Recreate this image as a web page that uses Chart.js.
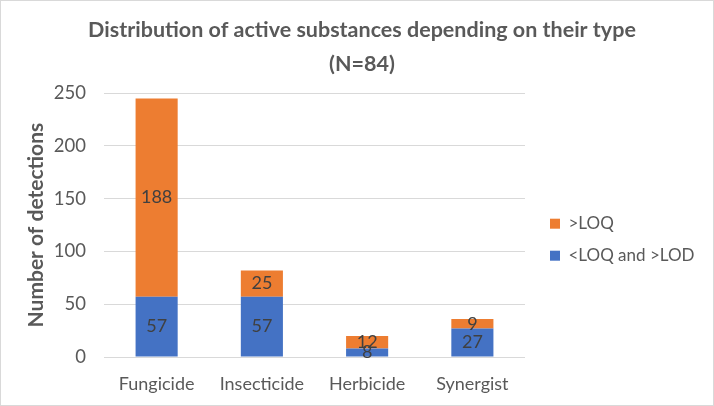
<!DOCTYPE html>
<html lang="en">
<head>
  <meta charset="UTF-8" />
  <title>Distribution of active substances</title>
  <script src="https://cdn.jsdelivr.net/npm/chart.js@4"></script>
  <style>
    html, body { margin: 0; padding: 0; background: #fff; }
    #wrap { width: 714px; height: 406px; box-sizing: border-box; border: 1px solid #d9d9d9; }
  </style>
</head>
<body>
  <div id="wrap"><canvas id="chart" width="712" height="404"></canvas></div>
  <script>
    // values
    const categories = ['Fungicide', 'Insecticide', 'Herbicide', 'Synergist'];
    const belowLoq = [57, 57, 8, 27];   // <LOQ and >LOD
    const aboveLoq = [188, 25, 12, 9];  // >LOQ
    const titleLines = ['Distribution of active substances depending on their type', '(N=84)'];

    const FONT = 'Lato, "Open Sans", sans-serif';
    const GREY = '#595959';

    // writes each segment's value in the middle of its bar
    const barLabels = {
      id: 'barLabels',
      afterDatasetsDraw(chart) {
        const ctx = chart.ctx;
        ctx.save();
        ctx.font = '18px ' + FONT;
        ctx.fillStyle = '#404040';
        ctx.textAlign = 'center';
        ctx.textBaseline = 'middle';
        chart.data.datasets.forEach((ds, i) => {
          chart.getDatasetMeta(i).data.forEach((bar, j) => {
            ctx.fillText(ds.data[j], bar.x, (bar.y + bar.base) / 2);
          });
        });
        ctx.restore();
      }
    };

    // legend keeps a fixed wide box so the plot stops well before it,
    // then its items are nudged a little to the right
    const wideLegend = {
      id: 'wideLegend',
      afterInit(chart) {
        const lg = chart.legend;
        const fit = lg.fit;
        lg.fit = function () {
          fit.call(this);
          this.width = 188;
        };
      },
      afterLayout(chart) {
        chart.legend.left += 10;
      }
    };

    new Chart(document.getElementById('chart'), {
      type: 'bar',
      data: {
        labels: categories,
        datasets: [
          { label: '<LOQ and >LOD', data: belowLoq, backgroundColor: '#4472C4' },
          { label: '>LOQ', data: aboveLoq, backgroundColor: '#ED7D31' }
        ]
      },
      options: {
        responsive: false,
        animation: false,
        layout: { padding: { top: 2, left: 10, right: 0, bottom: 12 } },
        datasets: { bar: { categoryPercentage: 1, barPercentage: 0.4 } },
        plugins: {
          title: {
            display: true,
            text: titleLines,
            color: GREY,
            font: { family: FONT, size: 21.5, weight: 'bold', lineHeight: 1.54 },
            padding: { top: 11, bottom: 13 }
          },
          legend: {
            position: 'right',
            reverse: true,
            title: { display: true, text: ' ', padding: { top: 0, bottom: 63 }, font: { size: 17 } },
            labels: {
              color: GREY,
              boxWidth: 10,
              boxHeight: 10,
              padding: 15,
              font: { family: FONT, size: 17 }
            }
          },
          tooltip: { enabled: false }
        },
        scales: {
          x: {
            stacked: true,
            grid: { display: false, drawTicks: false },
            border: { display: false },
            ticks: { color: GREY, padding: 16, maxRotation: 0, font: { family: FONT, size: 18 } },
            afterFit(s) { s.height = 36; }
          },
          y: {
            stacked: true,
            min: 0,
            max: 250,
            ticks: { stepSize: 50, color: GREY, padding: 18, font: { family: FONT, size: 18.5 } },
            grid: { color: '#d9d9d9', drawTicks: false },
            border: { display: false },
            title: {
              display: true,
              text: 'Number of detections',
              color: GREY,
              font: { family: FONT, size: 21, weight: 'bold' },
              padding: { top: 13, bottom: 0 }
            },
            afterFit(s) { s.width = 93; }
          }
        }
      },
      plugins: [barLabels, wideLegend]
    });
  </script>
</body>
</html>
